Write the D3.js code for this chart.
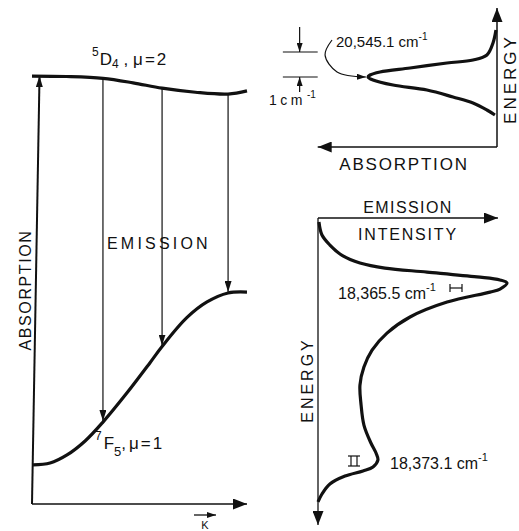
<!DOCTYPE html>
<html>
<head>
<meta charset="utf-8">
<script src="https://cdn.jsdelivr.net/npm/d3@7"></script>
<style>
  body { margin: 0; background: #fff; }
  text { font-family: "Liberation Sans", Arial, sans-serif; fill: #111; }
</style>
</head>
<body>
<div id="chart"></div>
<script>
// dispersion of the two levels, [k, energy (arb.)]
var upperLevel = [[0, 95.1], [0.16, 95.0], [0.33, 94.6], [0.47, 93.6], [0.605, 92.4], [0.76, 91.5], [0.912, 91.1], [1, 91.8]];
var lowerLevel = [[0.005, 8.7], [0.084, 9.1], [0.163, 10.9], [0.247, 14.0], [0.33, 18.2], [0.442, 24.7], [0.549, 31.4], [0.605, 35.0], [0.72, 41.4], [0.814, 44.9], [0.912, 46.9], [1, 47.1]];
var emissionK = [0.33, 0.605, 0.912];
var absorptionArrow = [[0, 0], [0.035, 95.1]];

// absorption line, [absorption, energy cm-1]
var absorptionPeak = [[0.008, 20546.98], [0.031, 20546.46], [0.078, 20545.98], [0.186, 20545.78], [0.388, 20545.66], [0.674, 20545.46], [0.907, 20545.30], [0.984, 20545.18], [1, 20545.1], [0.961, 20544.98], [0.806, 20544.78], [0.543, 20544.58], [0.341, 20544.30], [0.186, 20544.06], [0.078, 20543.78], [0.016, 20543.58]];
var absPeakLabel = "20,545.1";

// emission band, [intensity, energy cm-1]
var emissionBand = [[0.005, 18362.88], [0.021, 18363.44], [0.063, 18363.87], [0.132, 18364.34], [0.222, 18364.64], [0.354, 18364.86], [0.577, 18365.03], [0.841, 18365.24], [0.963, 18365.37], [1, 18365.5], [0.963, 18365.76], [0.91, 18365.89], [0.683, 18366.32], [0.487, 18366.96], [0.365, 18367.65], [0.286, 18368.38], [0.243, 18369.11], [0.222, 18369.88], [0.228, 18370.74], [0.243, 18371.6], [0.28, 18372.37], [0.307, 18372.8], [0.317, 18373.1], [0.291, 18373.4], [0.238, 18373.57], [0.143, 18373.79], [0.063, 18374.13], [0.021, 18374.56], [0, 18374.9]];
var emPeakLabels = ["18,365.5", "18,373.1"];

var W = 519, H = 531;
var svg = d3.select("#chart").append("svg").attr("width", W).attr("height", H);
var defs = svg.append("defs");

var addMarker = function(id, len, wid){
    defs.append("marker").attr("id", id).attr("markerUnits", "userSpaceOnUse")
        .attr("viewBox", "0 0 " + len + " " + wid)
        .attr("refX", len).attr("refY", wid / 2)
        .attr("markerWidth", len).attr("markerHeight", wid)
        .attr("orient", "auto")
        .append("path").attr("d", "M0,0L" + len + "," + (wid / 2) + "L0," + wid + "Z").attr("fill", "#111");
};
addMarker("big", 14, 11);
addMarker("mid", 11, 7);
addMarker("small", 9, 6);

var seg = function(g, x1, y1, x2, y2, w, mk){
    var l = g.append("line").attr("x1", x1).attr("y1", y1).attr("x2", x2).attr("y2", y2)
        .attr("stroke", "#111").attr("stroke-width", w);
    if (mk) l.attr("marker-end", "url(#" + mk + ")");
    return l;
};

// ---------- left panel ----------
var left = svg.append("g");
var kScale = d3.scaleLinear().domain([0, 1]).range([32, 247]);
var eScale = d3.scaleLinear().domain([0, 100]).range([504, 54]);
var levelLine = d3.line().x(function(d){ return kScale(d[0]); }).y(function(d){ return eScale(d[1]); }).curve(d3.curveCatmullRom.alpha(0.5));

var lookup = function(arr, k){
    return arr.filter(function(d){ return d[0] === k; })[0][1];
};

emissionK.forEach(function(k){
    seg(left, kScale(k), eScale(lookup(upperLevel, k)), kScale(k), eScale(lookup(lowerLevel, k)) - 1, 1.2, "mid");
});

left.append("path").attr("d", levelLine(upperLevel)).attr("fill", "none").attr("stroke", "#111").attr("stroke-width", 3.2);
left.append("path").attr("d", levelLine(lowerLevel)).attr("fill", "none").attr("stroke", "#111").attr("stroke-width", 3.2);

seg(left, kScale(absorptionArrow[0][0]), eScale(absorptionArrow[0][1]), kScale(absorptionArrow[1][0]), eScale(absorptionArrow[1][1]), 2, "mid");
seg(left, kScale(0), eScale(0), kScale(1), eScale(0), 1.6, "big");

var t = left.append("text").attr("x", 92).attr("y", 65).style("font-size", "17px");
t.append("tspan").text("5").attr("dy", -9).style("font-size", "12px");
t.append("tspan").text("D").attr("dy", 9).attr("dx", 1);
t.append("tspan").text("4").attr("dy", 3).style("font-size", "12px");
t.append("tspan").text(" ,").attr("dy", -3);
t.append("tspan").text("\u03bc=2").attr("dx", 5).style("letter-spacing", "2px");

t = left.append("text").attr("x", 95).attr("y", 449).style("font-size", "17px");
t.append("tspan").text("7").attr("dy", -9).style("font-size", "12px");
t.append("tspan").text("F").attr("dy", 9).attr("dx", 2);
t.append("tspan").text("5").attr("dy", 7).style("font-size", "13px");
t.append("tspan").text(",").attr("dy", -7);
t.append("tspan").text("\u03bc=1").attr("dx", 3).style("letter-spacing", "2px");

left.append("text").attr("x", 107).attr("y", 249).style("font-size", "16px").style("letter-spacing", "3.2px").text("EMISSION");
left.append("text").attr("transform", "translate(31,290) rotate(-90)").attr("text-anchor", "middle")
    .style("font-size", "16px").style("letter-spacing", "1.6px").text("ABSORPTION");
seg(left, 194, 515, 216, 515, 1.3, "small");
left.append("text").attr("x", 205).attr("y", 529).attr("text-anchor", "middle").style("font-size", "11px").text("K");

// ---------- top right panel ----------
var tr = svg.append("g");
var aScale = d3.scaleLinear().domain([0, 1]).range([497, 368]);
var tScale = d3.scaleLinear().domain([20545.1, 20546.1]).range([77, 52]);
var absLine = d3.line().x(function(d){ return aScale(d[0]); }).y(function(d){ return tScale(d[1]); }).curve(d3.curveCatmullRom.alpha(0.5));

seg(tr, aScale(0), tScale(20542.3), aScale(0), tScale(20547.86), 1.5, "big");
seg(tr, aScale(0), tScale(20542.3), aScale(1.39), tScale(20542.3), 1.5, "big");
tr.append("path").attr("d", absLine(absorptionPeak)).attr("fill", "none").attr("stroke", "#111").attr("stroke-width", 3.2);

// 1 cm-1 scale marker
[20545.1, 20546.1].forEach(function(e){
    seg(tr, aScale(1.66), tScale(e), aScale(1.39), tScale(e), 1.2);
});
seg(tr, aScale(1.53), tScale(20547.1), aScale(1.53), tScale(20546.1), 1.2, "small");
seg(tr, aScale(1.53), tScale(20544.5), aScale(1.53), tScale(20545.1), 1.2, "small");

var pointer = [[1.279, 20546.58], [1.333, 20545.98], [1.24, 20545.3], [1.016, 20545.1]];
tr.append("path").attr("d", absLine(pointer))
    .attr("fill", "none").attr("stroke", "#111").attr("stroke-width", 1.2).attr("marker-end", "url(#small)");

t = tr.append("text").attr("x", 336).attr("y", 47).style("font-size", "15px");
t.append("tspan").text(absPeakLabel + " cm");
t.append("tspan").text("-1").attr("dy", -7).style("font-size", "10px");
t = tr.append("text").attr("x", 269).attr("y", 105).style("font-size", "14px");
t.append("tspan").text("1cm").style("letter-spacing", "3.5px");
t.append("tspan").text("-1").attr("dy", -7).attr("dx", 1).style("font-size", "10px");

tr.append("text").attr("x", 404).attr("y", 170).attr("text-anchor", "middle")
    .style("font-size", "17px").style("letter-spacing", "1.8px").text("ABSORPTION");
tr.append("text").attr("transform", "translate(516,79) rotate(-90)").attr("text-anchor", "middle")
    .style("font-size", "17px").style("letter-spacing", "3px").text("ENERGY");

// ---------- bottom right panel ----------
var br = svg.append("g");
var iScale = d3.scaleLinear().domain([0, 1]).range([318, 507]);
var fScale = d3.scaleLinear().domain([18365.5, 18373.1]).range([283, 460]);
var emLine = d3.line().x(function(d){ return iScale(d[0]); }).y(function(d){ return fScale(d[1]); }).curve(d3.curveCatmullRom.alpha(0.5));

seg(br, iScale(0), fScale(18362.71), iScale(0.952), fScale(18362.71), 1.3, "big");
seg(br, iScale(0), fScale(18362.71), iScale(0), fScale(18375.89), 1.3, "big");
br.append("path").attr("d", emLine(emissionBand)).attr("fill", "none").attr("stroke", "#111").attr("stroke-width", 3.2);

br.append("text").attr("x", 408).attr("y", 213).attr("text-anchor", "middle")
    .style("font-size", "16px").style("letter-spacing", "1.4px").text("EMISSION");
br.append("text").attr("x", 408).attr("y", 240).attr("text-anchor", "middle")
    .style("font-size", "16px").style("letter-spacing", "1.8px").text("INTENSITY");
br.append("text").attr("transform", "translate(313,380) rotate(-90)").attr("text-anchor", "middle")
    .style("font-size", "16px").style("letter-spacing", "3px").text("ENERGY");

t = br.append("text").attr("x", 338).attr("y", 299).style("font-size", "16px");
t.append("tspan").text(emPeakLabels[0] + " cm");
t.append("tspan").text("-1").attr("dy", -8).style("font-size", "11px");
t = br.append("text").attr("x", 390).attr("y", 469).style("font-size", "16px");
t.append("tspan").text(emPeakLabels[1] + " cm");
t.append("tspan").text("-1").attr("dy", -8).style("font-size", "11px");

// resolution bars
seg(br, 450, 288, 462, 288, 1.2);
seg(br, 450, 284, 450, 292, 1.2);
seg(br, 462, 284, 462, 292, 1.2);
seg(br, 348, 456, 360, 456, 1.2);
seg(br, 348, 466, 360, 466, 1.2);
seg(br, 351, 456, 351, 466, 1.2);
seg(br, 357, 456, 357, 466, 1.2);
</script>
</body>
</html>
